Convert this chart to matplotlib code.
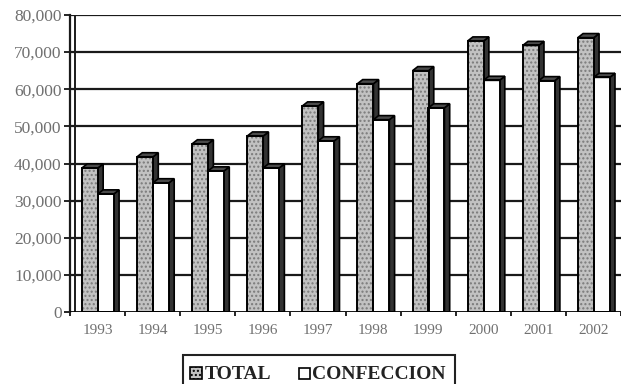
import matplotlib
matplotlib.use("Agg")
import matplotlib.pyplot as plt
from matplotlib.patches import Polygon, Rectangle

years = ["1993", "1994", "1995", "1996", "1997", "1998", "1999", "2000", "2001", "2002"]
total = [38800, 41800, 45300, 47400, 55500, 61500, 65000, 73000, 71800, 73900]
confeccion = [31800, 34800, 38000, 38800, 46100, 51800, 55000, 62400, 62300, 63200]
y_ticks = [0, 10000, 20000, 30000, 40000, 50000, 60000, 70000, 80000]
series_names = ["TOTAL", "CONFECCION"]

W, H = 621, 384
fig = plt.figure(figsize=(W / 100, H / 100), dpi=100)
ax = fig.add_axes([70 / W, 1 - 312 / H, 1 - 70 / W, (312 - 15) / H])

x_left = -0.5 + 2 / 55.3
ax.set_xlim(x_left, 9.5)
ax.set_ylim(0, 80000)

# horizontal gridlines
for v in y_ticks[1:]:
    ax.axhline(v, color="#1a1a1a", lw=1.6, zorder=1)

bar_w = 0.29
dx = 0.095
dy = 1100
serif = "Liberation Serif"


def draw_bar(x0, h, face, hatch):
    # front face
    ax.add_patch(Rectangle((x0, 0), bar_w, h, facecolor=face, edgecolor="#7a7a7a" if hatch else "none",
                           hatch=hatch, lw=0, zorder=3))
    ax.add_patch(Rectangle((x0, 0), bar_w, h, facecolor="none", edgecolor="black", lw=1.4, zorder=4))
    # top face
    ax.add_patch(Polygon([(x0, h), (x0 + dx, h + dy), (x0 + bar_w + dx, h + dy), (x0 + bar_w, h)],
                         closed=True, facecolor="#4a4a4a", edgecolor="black", lw=1.2, zorder=3))
    # side face
    ax.add_patch(Polygon([(x0 + bar_w, 0), (x0 + bar_w, h), (x0 + bar_w + dx, h + dy), (x0 + bar_w + dx, 0)],
                         closed=True, facecolor="#333333", edgecolor="black", lw=1.2, zorder=2))


for i in range(len(years)):
    draw_bar(i - 0.283, total[i], "#c2c2c2", "....")
    draw_bar(i + 0.006, confeccion[i], "white", None)

# back wall and floor
ax.axvline(x_left + 3 / 55.3, color="#1a1a1a", lw=1.4, zorder=5)
ax.axhline(0, color="black", lw=2, zorder=5)

for s in ["top", "right", "bottom"]:
    ax.spines[s].set_visible(False)
ax.spines["left"].set_linewidth(1.6)
ax.spines["left"].set_color("#1a1a1a")

ax.set_yticks(y_ticks)
ax.set_yticklabels([f"{v:,}" for v in y_ticks], fontfamily=serif, fontsize=12.5, color="#707070")
ax.tick_params(axis="y", length=4, width=1.2, pad=2, color="black")

ax.set_xticks(range(len(years)))
ax.set_xticklabels(years, fontfamily=serif, fontsize=11, color="#707070")
ax.tick_params(axis="x", which="major", length=0, pad=9)
ax.set_xticks([i + 0.5 for i in range(-1, 10)], minor=True)
ax.tick_params(axis="x", which="minor", length=3, width=1.2, color="black")

# legend box
fig.patches.append(Rectangle((183 / W, 1 - 395 / H), (455 - 183) / W, (395 - 355) / H,
                             transform=fig.transFigure, facecolor="white", edgecolor="#222222", lw=1.5))
fig.patches.append(Rectangle((190 / W, 1 - 379 / H), 12 / W, 12 / H, transform=fig.transFigure,
                             facecolor="#c2c2c2", edgecolor="black", hatch="....", lw=1.2))
fig.patches.append(Rectangle((299 / W, 1 - 379 / H), 11 / W, 11 / H, transform=fig.transFigure,
                             facecolor="white", edgecolor="black", lw=1.2))
fig.text(205 / W, 1 - 379 / H, series_names[0], fontfamily=serif, fontweight="bold", fontsize=14,
         color="#222222", va="baseline")
fig.text(312 / W, 1 - 379 / H, series_names[1], fontfamily=serif, fontweight="bold", fontsize=14,
         color="#222222", va="baseline")

fig.savefig("out.png", dpi=100)
